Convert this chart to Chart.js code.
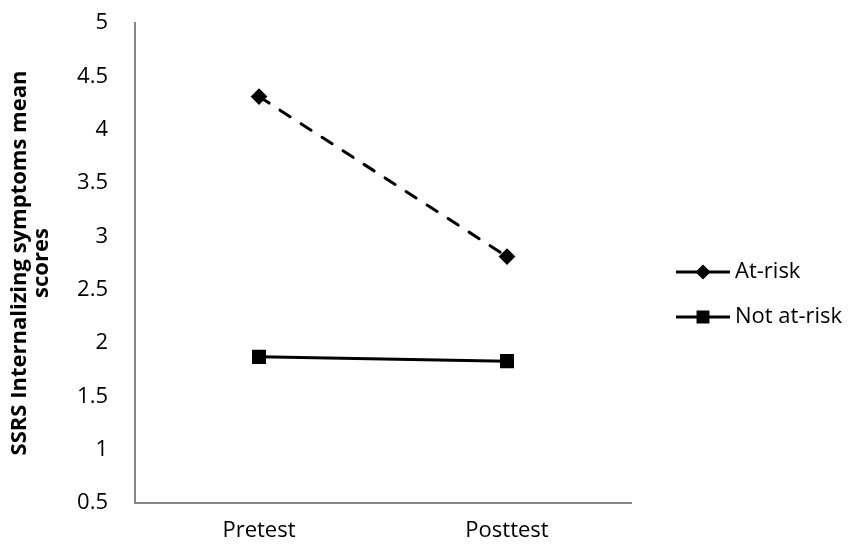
<!DOCTYPE html>
<html>
<head>
<meta charset="utf-8">
<script src="https://cdn.jsdelivr.net/npm/chart.js@4/dist/chart.umd.min.js"></script>
<style>
  html, body { margin: 0; padding: 0; background: #fff; }
  #wrap { width: 852px; height: 548px; }
</style>
</head>
<body>
<div id="wrap"><canvas id="c" width="852" height="548"></canvas></div>
<script>
const categories = ['Pretest', 'Posttest'];
const atRisk = [4.31, 2.81];
const notAtRisk = [1.87, 1.83];
const seriesNames = ['At-risk', 'Not at-risk'];
const yTitle = ['SSRS Internalizing symptoms mean', 'scores'];
const yMin = 0.5, yMax = 5, yStep = 0.5;

const FONT = "'Open Sans', sans-serif";

const excelLegend = {
  id: 'excelLegend',
  afterDraw(chart) {
    const ctx = chart.ctx;
    const area = chart.chartArea;
    const x0 = area.right + 45;
    const lineLen = 54;
    const rowY = [272, 317];
    ctx.save();
    chart.data.datasets.forEach((ds, i) => {
      const y = rowY[i];
      ctx.strokeStyle = ds.borderColor;
      ctx.lineWidth = ds.borderWidth;
      ctx.setLineDash([]);
      ctx.beginPath();
      ctx.moveTo(x0, y);
      ctx.lineTo(x0 + lineLen, y);
      ctx.stroke();
      Chart.helpers.drawPoint(ctx, {
        pointStyle: ds.pointStyle,
        radius: ds.pointStyle === 'rect' ? 7 : 5.5,
        borderWidth: 2
      }, x0 + lineLen / 2, y);
      ctx.fillStyle = ds.pointBackgroundColor;
      ctx.fill();
      ctx.fillStyle = '#000';
      ctx.font = "22px " + FONT;
      ctx.textAlign = 'left';
      ctx.textBaseline = 'middle';
      ctx.fillText(ds.label, x0 + lineLen + 5, y);
    });
    ctx.restore();
  }
};

new Chart(document.getElementById('c'), {
  type: 'line',
  data: {
    labels: categories,
    datasets: [
      {
        label: seriesNames[0],
        data: atRisk,
        borderColor: '#000',
        backgroundColor: '#000',
        pointBackgroundColor: '#000',
        pointBorderColor: '#000',
        borderWidth: 3,
        borderDash: [12, 13],
        borderCapStyle: 'round',
        pointStyle: 'rectRot',
        pointRadius: 7,
        pointBorderWidth: 2,
        tension: 0
      },
      {
        label: seriesNames[1],
        data: notAtRisk,
        borderColor: '#000',
        backgroundColor: '#000',
        pointBackgroundColor: '#000',
        pointBorderColor: '#000',
        borderWidth: 3,
        pointStyle: 'rect',
        pointRadius: 8.5,
        pointBorderWidth: 2,
        tension: 0
      }
    ]
  },
  options: {
    responsive: false,
    animation: false,
    devicePixelRatio: 1,
    layout: { padding: { left: 0, top: 23, right: 221, bottom: 0 } },
    plugins: {
      legend: { display: false },
      tooltip: { enabled: false }
    },
    scales: {
      x: {
        type: 'category',
        offset: true,
        grid: { display: false, drawTicks: false },
        border: { display: true, color: '#868686', width: 2 },
        ticks: {
          color: '#000',
          font: { family: FONT, size: 22 },
          padding: 15
        },
        afterFit(scale) { scale.height = 45; }
      },
      y: {
        min: yMin,
        max: yMax,
        grid: { display: false, drawTicks: false },
        border: { display: true, color: '#868686', width: 2 },
        ticks: {
          stepSize: yStep,
          color: '#000',
          font: { family: FONT, size: 22 },
          padding: 27,
          callback: (v) => String(Math.round(v * 10) / 10)
        },
        title: {
          display: true,
          text: yTitle,
          color: '#000',
          font: { family: FONT, size: 22, weight: 'bold', lineHeight: 1.0 },
          padding: { top: 9, bottom: 0 }
        },
        afterFit(scale) {
          scale.width = 135;
          scale.paddingTop = 0;
          scale.paddingBottom = 0;
        }
      }
    }
  },
  plugins: [excelLegend]
});
</script>
</body>
</html>
